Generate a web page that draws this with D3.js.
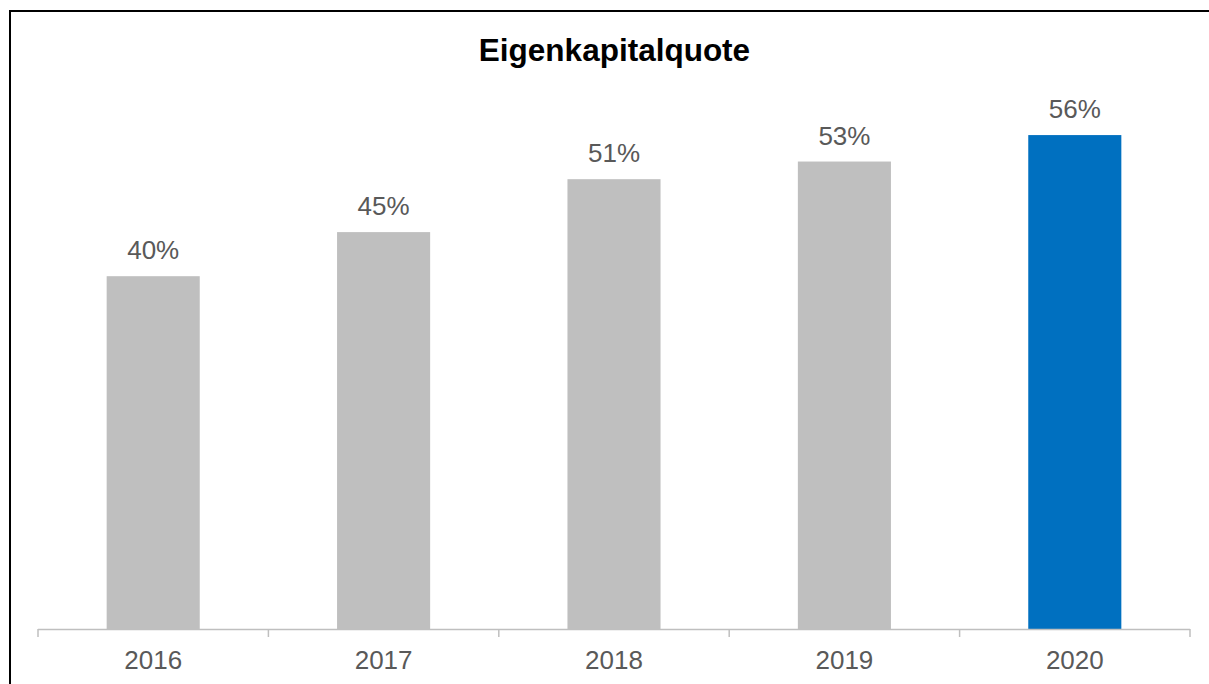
<!DOCTYPE html>
<html>
<head>
<meta charset="utf-8">
<script src="https://cdn.jsdelivr.net/npm/d3@7"></script>
<style>
  html, body { margin: 0; padding: 0; background: #fff; }
  svg { display: block; }
  text { font-family: "Liberation Sans", Arial, sans-serif; }
</style>
</head>
<body>
<script>
// Equity ratio per year (percent)
const years = ["2016", "2017", "2018", "2019", "2020"];
const ratios = [40, 45, 51, 53, 56];
const barColors = ["#BFBFBF", "#BFBFBF", "#BFBFBF", "#BFBFBF", "#0070C0"];
const titleText = "Eigenkapitalquote";

const width = 1209, height = 684;
const svg = d3.select("body").append("svg")
  .attr("width", width).attr("height", height);

svg.append("rect").attr("width", width).attr("height", height).attr("fill", "#fff");

// frame (top and left edges)
svg.append("path")
  .attr("d", d3.line()([[10, height], [10, 11], [width, 11]]))
  .attr("fill", "none").attr("stroke", "#000").attr("stroke-width", 2);

const baseY = 629;
const x = d3.scaleBand().domain(years).range([38, 1190])
  .paddingInner(0.596).paddingOuter(0.298);
const y = d3.scaleLinear().domain([0, 60]).range([baseY, baseY - 60 * 8.82]);

svg.append("text")
  .attr("x", 614.5).attr("y", 61)
  .attr("text-anchor", "middle")
  .attr("font-size", 31.5).attr("font-weight", "bold").attr("fill", "#000")
  .text(titleText);

const data = years.map((yr, i) => ({ yr, v: ratios[i], c: barColors[i] }));

svg.selectAll("rect.bar").data(data).join("rect")
  .attr("class", "bar")
  .attr("x", d => x(d.yr))
  .attr("width", x.bandwidth())
  .attr("y", d => y(d.v))
  .attr("height", d => baseY - y(d.v))
  .attr("fill", d => d.c);

svg.selectAll("text.val").data(data).join("text")
  .attr("class", "val")
  .attr("x", d => x(d.yr) + x.bandwidth() / 2)
  .attr("y", d => y(d.v) - 17)
  .attr("text-anchor", "middle")
  .attr("font-size", 26).attr("fill", "#595959")
  .text(d => d.v + "%");

// category axis with ticks at band boundaries
const axisColor = "#BFBFBF";
const axisG = svg.append("g");
axisG.append("line")
  .attr("x1", 38).attr("x2", 1190).attr("y1", baseY + 0.5).attr("y2", baseY + 0.5)
  .attr("stroke", axisColor).attr("stroke-width", 1.5);
const bounds = years.map(yr => x(yr) - x.step() * x.paddingInner() / 2);
bounds[0] = 38;
bounds.push(1190);
axisG.selectAll("line.tick").data(bounds).join("line")
  .attr("class", "tick")
  .attr("x1", d => d).attr("x2", d => d)
  .attr("y1", baseY).attr("y2", baseY + 8)
  .attr("stroke", axisColor).attr("stroke-width", 1.5);

axisG.selectAll("text.cat").data(years).join("text")
  .attr("class", "cat")
  .attr("x", d => x(d) + x.bandwidth() / 2)
  .attr("y", 669)
  .attr("text-anchor", "middle")
  .attr("font-size", 26).attr("fill", "#595959")
  .text(d => d);
</script>
</body>
</html>
